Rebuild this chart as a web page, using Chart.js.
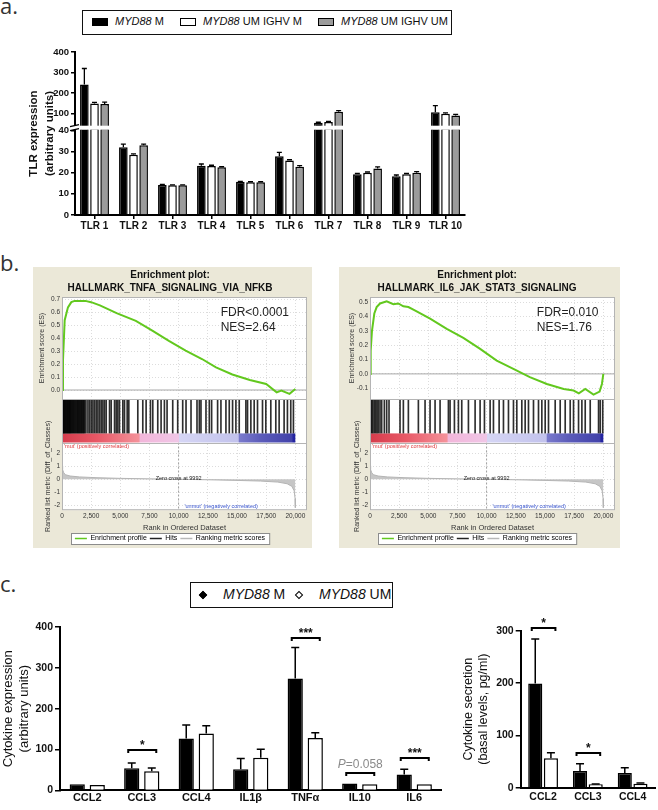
<!DOCTYPE html>
<html>
<head>
<meta charset="utf-8">
<title>TLR expression, GSEA and cytokines</title>
<script src="https://cdn.jsdelivr.net/npm/chart.js@4.4.0/dist/chart.umd.min.js"></script>
<style>
  body { margin: 0; width: 658px; height: 810px; position: relative; overflow: hidden; background: #fff;
         font-family: 'Liberation Sans', Arial, sans-serif; color: #111; }
  .panel { position: absolute; }
  canvas { display: block; }
  .tag { position: absolute; font-family: 'Open Sans', sans-serif; font-size: 22px; line-height: 22px; color: #333; }
  .legend { position: absolute; border: 1.5px solid #111; box-sizing: border-box; background: #fff; }
  .legend span { position: absolute; white-space: nowrap; }
  .sw { width: 16px; height: 8px; box-sizing: border-box; border: 1.5px solid #000; }
  .dia { width: 6px; height: 6px; box-sizing: border-box; border: 1.3px solid #000; transform: rotate(45deg); }
</style>
</head>
<body>

<div class="tag" style="left:0;top:-6px">a.</div>
<div class="legend" style="left:82px;top:10px;width:370px;height:25px;font-size:11px">
  <span class="sw" style="left:9px;top:7px;background:#000"></span>
  <span style="left:32px;top:4px"><i>MYD88</i> M</span>
  <span class="sw" style="left:97px;top:7px;background:#fff"></span>
  <span style="left:120px;top:4px"><i>MYD88</i> UM IGHV M</span>
  <span class="sw" style="left:235px;top:7px;background:#9b9b9b"></span>
  <span style="left:258px;top:4px"><i>MYD88</i> UM IGHV UM</span>
</div>
<div class="panel" style="left:0;top:40px"><canvas id="tlrChart" width="475" height="200"></canvas></div>

<div class="tag" style="left:0;top:251px">b.</div>
<div class="panel" style="left:33px;top:267px"><canvas id="gseaTnfa" width="279" height="281"></canvas></div>
<div class="panel" style="left:339px;top:267px"><canvas id="gseaIl6" width="281" height="281"></canvas></div>

<div class="tag" style="left:0;top:572px">c.</div>
<div class="legend" style="left:190px;top:582px;width:203px;height:26px;font-size:14px">
  <span class="dia" style="left:9px;top:8.5px;background:#000"></span>
  <span style="left:32px;top:3px"><i>MYD88</i> M</span>
  <span class="dia" style="left:105px;top:8.5px;background:#fff"></span>
  <span style="left:128px;top:3px"><i>MYD88</i> UM</span>
</div>
<div class="panel" style="left:0;top:612px"><canvas id="cytoChart" width="447" height="198"></canvas></div>
<div class="panel" style="left:447px;top:612px"><canvas id="secChart" width="211" height="198"></canvas></div>

<script>
// ===== a. TLR expression =====
const tlrLabels = ['TLR 1', 'TLR 2', 'TLR 3', 'TLR 4', 'TLR 5', 'TLR 6', 'TLR 7', 'TLR 8', 'TLR 9', 'TLR 10'];
const tlrMutated = [242, 32, 14.2, 23.3, 15.7, 27.8, 56, 19.2, 18.3, 108];
const tlrUnmutIghvM = [150, 28.5, 14, 23.2, 15.5, 25.8, 60, 20, 19.2, 100];
const tlrUnmutIghvUM = [148, 33, 14, 22.5, 15.5, 22.8, 110, 22, 20, 92];
const tlrErrMutated = [78, 1.5, 0.2, 0.8, 0.2, 1.8, 3, 0.4, 0.6, 32];
const tlrErrUnmutIghvM = [5, 0.4, 0.2, 0.3, 0.2, 0.3, 3, 0.3, 0.4, 4];
const tlrErrUnmutIghvUM = [9, 0.5, 0.2, 0.3, 0.2, 0.5, 5, 0.7, 0.5, 5];
const tlrTopTicks = [100, 200, 300, 400];
const tlrLowTicks = [0, 10, 20, 30, 40];
const tlrTitle = ['TLR expression', '(arbitrary units)'];

// ===== b. GSEA =====
const rankTicks = [0, 2500, 5000, 7500, 10000, 12500, 15000, 17500, 20000];
const tnfaRank = [0, 85, 230, 510, 800, 1080, 1500, 2000, 2500, 3250, 4680, 6330, 7740, 9160, 10600,
                  12000, 13200, 14600, 16100, 17500, 18400, 18800, 19500, 20000];
const tnfaES = [0, 0.23, 0.54, 0.64, 0.68, 0.69, 0.69, 0.69, 0.68, 0.655, 0.595, 0.535, 0.46, 0.38, 0.305,
                0.24, 0.175, 0.12, 0.078, 0.047, -0.018, -0.005, -0.03, 0.008];
const tnfaHits = [30, 85, 130, 171, 220, 285, 340, 399, 460, 513, 570, 627, 680, 741, 800, 870, 941, 1010,
                  1083, 1150, 1226, 1300, 1368, 1440, 1511, 1580, 1653, 1720, 1796, 1870, 1938, 2052, 2223,
                  2366, 2508, 2651, 2793, 2936, 3078, 3221, 3363, 3506, 3648, 3790, 4075, 4218, 4503, 4645,
                  4788, 4930, 5215, 5358, 5586, 5728, 6498, 6925, 7210, 7581, 7781, 8208, 8493, 8778, 9006,
                  9491, 9918, 10346, 10631, 11058, 11571, 11771, 11913, 12341, 12626, 12825, 13338, 13623,
                  14051, 14336, 14621, 14906, 15191, 15761, 15903, 16188, 16473, 16758, 17186, 17471, 17898,
                  18326, 18611, 19038, 19323, 19608, 19836];
const il6Rank = [0, 57, 170, 370, 570, 860, 1430, 2000, 2430, 2860, 3290, 3720, 5150, 6580, 8000, 9440,
                 10860, 12290, 13700, 15160, 16600, 17450, 17900, 18450, 19160, 19680, 19880, 20000];
const il6ES = [0, 0.16, 0.3, 0.42, 0.465, 0.49, 0.505, 0.485, 0.49, 0.47, 0.465, 0.447, 0.384, 0.314, 0.25,
               0.174, 0.093, 0.035, -0.023, -0.07, -0.105, -0.116, -0.135, -0.105, -0.144, -0.123, -0.07, 0];
const il6Hits = [60, 150, 250, 372, 486, 601, 715, 858, 1001, 1230, 1430, 1630, 2574, 2860, 3289, 4147,
                 4719, 5148, 5577, 6006, 6721, 6864, 7236, 7579, 7865, 8437, 9009, 9438, 9810, 10296, 10582,
                 11068, 11440, 11869, 12298, 12584, 13013, 13299, 13585, 14014, 14443, 14729, 15015, 15301,
                 15873, 16302, 16731, 17160, 17446, 17875, 18161, 18447, 18876, 19591, 19734, 19950];
const metricRank = [0, 50, 150, 300, 700, 1500, 3000, 5000, 7500, 9992, 12500, 15000, 17000, 18500, 19300,
                    19700, 19900, 19980, 20000];
const metricValue = [1.05, 0.75, 0.5, 0.35, 0.25, 0.18, 0.12, 0.07, 0.03, 0, -0.04, -0.09, -0.14, -0.22,
                     -0.35, -0.55, -0.9, -1.5, -2.2];
const metricTicks = [-2, -1, 0, 1, 2];
const esTicksTnfa = [0, 0.1, 0.2, 0.3, 0.4, 0.5, 0.6, 0.7];
const esTicksIl6 = [-0.1, 0, 0.1, 0.2, 0.3, 0.4, 0.5];
const cbarRank = [0, 3000, 6600, 6700, 10000, 10000, 15100, 15200, 17000, 19700, 19800, 20000];
const cbarColor = ['#d63c4c', '#e85866', '#f4929a', '#f2b6da', '#f0c6e6', '#d6d6f5', '#c2c2ec', '#7a7acc',
                   '#5c5cba', '#4242aa', '#2626a0', '#2020a0'];
const gseaLegendText = ['Enrichment profile', 'Hits', 'Ranking metric scores'];
const gseaLegendColor = ['#62c81e', '#222222', '#b8b8b8'];

// ===== c. Cytokines =====
const cytoLabels = ['CCL2', 'CCL3', 'CCL4', 'IL1β', 'TNFα', 'IL10', 'IL6'];
const cytoMut = [15, 54, 127, 52, 274, 17, 39];
const cytoUnmut = [13, 47, 139, 80, 128, 15, 15];
const cytoErrMut = [0, 13, 33, 26, 76, 0, 13];
const cytoErrUnmut = [0, 8, 19, 21, 13, 0, 0];
const cytoTicks = [0, 100, 200, 300, 400];
const cytoSigIndex = [1, 4, 5, 6];
const cytoSigLevel = [98, 374, 42, 79];
const cytoSigText = ['*', '***', 'P=0.058', '***'];

const secLabels = ['CCL2', 'CCL3', 'CCL4'];
const secMut = [199, 32, 28];
const secUnmut = [56.5, 6.5, 7.5];
const secErrMut = [85, 14, 10];
const secErrUnmut = [10.5, 0.5, 1.5];
const secTicks = [0, 100, 200, 300];
const secSigIndex = [0, 1];
const secSigLevel = [306, 67];
const secSigText = ['*', '*'];

Chart.defaults.font.family = "'Liberation Sans', Arial, sans-serif";
Chart.defaults.animation = false;
Chart.defaults.plugins.legend.display = false;
Chart.defaults.plugins.tooltip.enabled = false;

const FONT = "'Liberation Sans', Arial, sans-serif";
const setTicks = list => scale => { scale.ticks = list.map(v => ({ value: v })); };

// ===== a. chart (broken y axis = two stacked scales) =====
const tlrBreak = 40;
const tlrSeries = [
    { name: 'MYD88 M', values: tlrMutated, errors: tlrErrMutated, color: '#000' },
    { name: 'MYD88 UM IGHV M', values: tlrUnmutIghvM, errors: tlrErrUnmutIghvM, color: '#fff' },
    { name: 'MYD88 UM IGHV UM', values: tlrUnmutIghvUM, errors: tlrErrUnmutIghvUM, color: '#9b9b9b' }
];
const tlrBarStyle = s => ({
    label: s.name, stack: s.name, backgroundColor: s.color, borderColor: '#000', borderWidth: 1.5,
    categoryPercentage: 0.78, barPercentage: 0.85
});

const tlrDecor = {
    id: 'tlrDecor',
    afterDatasetsDraw(chart) {
        const { ctx, scales } = chart;
        ctx.save();
        ctx.strokeStyle = '#000';
        ctx.lineWidth = 1.3;
        tlrSeries.forEach((s, si) => {
            chart.getDatasetMeta(tlrSeries.length + si).data.forEach((bar, j) => {
                const v = s.values[j], e = s.errors[j];
                if (!e) return;
                const sc = v > tlrBreak ? scales.yTop : scales.yLow;
                const y0 = sc.getPixelForValue(v), y1 = sc.getPixelForValue(v + e);
                ctx.beginPath();
                ctx.moveTo(bar.x, y0); ctx.lineTo(bar.x, y1);
                ctx.moveTo(bar.x - 2.5, y1); ctx.lineTo(bar.x + 2.5, y1);
                ctx.stroke();
            });
        });
        ctx.restore();
    },
    afterDraw(chart) {
        const { ctx, chartArea: a, scales } = chart;
        const yb = scales.yTop.bottom;
        ctx.save();
        // axis break
        ctx.fillStyle = '#fff';
        ctx.fillRect(a.left - 6, yb - 2.5, a.right - a.left + 6, 4);
        ctx.strokeStyle = '#000';
        ctx.lineWidth = 1.3;
        ctx.beginPath();
        ctx.moveTo(a.left - 5, yb - 1.5); ctx.lineTo(a.left + 4, yb - 3.5);
        ctx.moveTo(a.left - 5, yb + 2.5); ctx.lineTo(a.left + 4, yb + 0.5);
        ctx.stroke();
        // y title across both segments
        ctx.fillStyle = '#111';
        ctx.font = 'bold 11.5px ' + FONT;
        ctx.textAlign = 'center';
        ctx.textBaseline = 'middle';
        const cy = (a.top + a.bottom) / 2;
        [33.5, 49.5].forEach((x, i) => {
            ctx.save();
            ctx.translate(x, cy);
            ctx.rotate(-Math.PI / 2);
            ctx.fillText(tlrTitle[i], 0, 0);
            ctx.restore();
        });
        ctx.restore();
    }
};

const tlrAxis = {
    type: 'linear', position: 'left', stack: 'tlr', stacked: false,
    afterFit: s => { s.width = 30; },
    ticks: { font: { size: 9.5, weight: 'bold' }, color: '#111', padding: 2, autoSkip: false },
    grid: { drawOnChartArea: false, color: '#000', lineWidth: 1.5, tickLength: 4 },
    border: { color: '#000', width: 2 }
};

new Chart(document.getElementById('tlrChart'), {
    type: 'bar',
    data: {
        labels: tlrLabels,
        datasets: [
            ...tlrSeries.map(s => ({ ...tlrBarStyle(s), yAxisID: 'yTop', data: s.values.map(v => v > tlrBreak ? v : null) })),
            ...tlrSeries.map(s => ({ ...tlrBarStyle(s), yAxisID: 'yLow', data: s.values.map(v => Math.min(v, 41)) }))
        ]
    },
    options: {
        responsive: false,
        layout: { padding: { left: 45, right: 10, top: 12, bottom: 7 } },
        scales: {
            x: {
                offset: true,
                grid: { display: true, drawOnChartArea: false, drawTicks: true, tickLength: 4, color: '#000', lineWidth: 1.5, offset: false },
                border: { color: '#000', width: 2 },
                ticks: { font: { size: 10, weight: 'bold' }, color: '#111', padding: 1, autoSkip: false, maxRotation: 0 }
            },
            yTop: { ...tlrAxis, weight: 2, stackWeight: 75.5, min: 30, max: 400, afterBuildTicks: setTicks(tlrTopTicks) },
            yLow: { ...tlrAxis, weight: 1, stackWeight: 86, min: 0, max: 41, afterBuildTicks: setTicks(tlrLowTicks) }
        }
    },
    plugins: [tlrDecor]
});

// ===== b. GSEA enrichment plots =====
function gseaDecor(g) {
    return {
        id: 'gseaDecor',
        beforeDraw(chart) {
            const { ctx, chartArea: a, width, height } = chart;
            ctx.save();
            ctx.fillStyle = '#ebe8d8';
            ctx.fillRect(0, 0, width, height);
            ctx.fillStyle = '#fff';
            ctx.fillRect(a.left, a.top, a.right - a.left, a.bottom - a.top);
            const hb = chart.legend.legendHitBoxes;
            if (hb && hb.length) {
                const l = Math.min(...hb.map(b => b.left)) - 4;
                const r = Math.max(...hb.map(b => b.left + b.width)) + 4;
                const t = hb[0].top - 2, bt = hb[0].top + hb[0].height + 2;
                ctx.fillRect(l, t, r - l, bt - t);
                ctx.strokeStyle = '#8c8c8c';
                ctx.lineWidth = 1;
                ctx.strokeRect(Math.round(l) + 0.5, Math.round(t) + 0.5, r - l, bt - t);
            }
            ctx.restore();
        },
        beforeDatasetsDraw(chart) {
            const { ctx, scales } = chart;
            const x = scales.x, yb = scales.yBar;
            const x0 = x.getPixelForValue(cbarRank[0]);
            const x1 = x.getPixelForValue(cbarRank[cbarRank.length - 1]);
            const grad = ctx.createLinearGradient(x0, 0, x1, 0);
            cbarRank.forEach((r, i) => grad.addColorStop(r / cbarRank[cbarRank.length - 1], cbarColor[i]));
            ctx.save();
            ctx.fillStyle = grad;
            ctx.fillRect(x0, yb.top, x1 - x0, yb.bottom - yb.top);
            ctx.restore();
        },
        afterDatasetsDraw(chart) {
            const { ctx, chartArea: a, scales } = chart;
            const x = scales.x, ym = scales.yMetric, ye = scales.yES;
            ctx.save();
            ctx.textBaseline = 'middle';
            ctx.font = '12px ' + FONT;
            ctx.fillStyle = '#222';
            ctx.textAlign = 'left';
            const sx = x.getPixelForValue(g.statRank), sy = ye.getPixelForValue(g.statLevel);
            ctx.fillText(g.stats[0], sx, sy);
            ctx.fillText(g.stats[1], sx, sy + 15);
            ctx.font = '5.5px ' + FONT;
            ctx.fillStyle = '#e0383c';
            ctx.fillText("'mut' (positively correlated)", a.left + 2, ym.top + 4);
            ctx.fillStyle = '#3a56d0';
            ctx.fillText("'unmut' (negatively correlated)", x.getPixelForValue(10500), ym.getPixelForValue(-2.1));
            ctx.fillStyle = '#222';
            ctx.textAlign = 'center';
            ctx.fillText('Zero cross at 9992', x.getPixelForValue(9992), ym.getPixelForValue(0) - 1);
            ctx.restore();
        },
        afterDraw(chart) {
            const { ctx, chartArea: a, scales } = chart;
            ctx.save();
            ctx.strokeStyle = '#b4b4b4';
            ctx.lineWidth = 1;
            ctx.strokeRect(a.left + 0.5, a.top + 0.5, a.right - a.left - 1, a.bottom - a.top - 1);
            ctx.beginPath();
            [scales.yES.bottom, scales.yBar.bottom].forEach(y => {
                ctx.moveTo(a.left, Math.round(y) + 0.5); ctx.lineTo(a.right, Math.round(y) + 0.5);
            });
            ctx.stroke();
            ctx.restore();
        }
    };
}

function gseaChart(id, g) {
    const side = { type: 'linear', position: 'left', stack: 'gsea', offset: false, afterFit: s => { s.width = g.axisWidth; } };
    const small = { size: 6.5 };
    const dotted = { display: false, dash: [1, 2] };
    return new Chart(document.getElementById(id), {
        type: 'line',
        data: {
            datasets: [
                { label: 'es', data: g.rank.map((r, i) => ({ x: r, y: g.es[i] })), yAxisID: 'yES',
                  borderColor: '#62c81e', borderWidth: 2, pointRadius: 0, order: 0 },
                { label: 'zero', data: [{ x: 0, y: 0 }, { x: 21000, y: 0 }], yAxisID: 'yES',
                  borderColor: '#a8a8a8', borderWidth: 1, pointRadius: 0, order: 3 },
                { type: 'bar', label: 'hits', data: g.hits.map(h => ({ x: h, y: 1 })), yAxisID: 'yHits',
                  backgroundColor: 'rgba(0,0,0,0.82)', barThickness: 1, borderWidth: 0, order: 1 },
                { label: 'metric', data: metricRank.map((r, i) => ({ x: r, y: metricValue[i] })), yAxisID: 'yMetric',
                  borderColor: '#b4b4b4', backgroundColor: '#c6c6c6', borderWidth: 1, fill: 'origin', pointRadius: 0, order: 2 },
                { label: 'cross', data: [{ x: 9992, y: 2.85 }, { x: 9992, y: -2.4 }], yAxisID: 'yMetric',
                  borderColor: '#a0a0a0', borderWidth: 1, borderDash: [2, 2], pointRadius: 0, order: 1 }
            ]
        },
        options: {
            responsive: false,
            layout: { padding: { left: 0, right: 5, top: 0, bottom: -4 } },
            plugins: {
                title: { display: true, text: ['Enrichment plot:', g.title], color: '#111',
                         font: { size: 10, weight: 'bold', lineHeight: 1.3 }, padding: { top: 1.5, bottom: 2.5 } },
                legend: {
                    display: true, position: 'bottom', onClick: null,
                    labels: {
                        color: '#222', font: { size: 7 }, usePointStyle: true, pointStyleWidth: 12, boxHeight: 7, padding: 3,
                        generateLabels: () => gseaLegendText.map((t, i) => ({
                            text: t, fillStyle: gseaLegendColor[i], strokeStyle: gseaLegendColor[i],
                            lineWidth: 1.5, pointStyle: 'line', hidden: false, datasetIndex: i
                        }))
                    }
                }
            },
            scales: {
                x: {
                    type: 'linear', min: 0, max: 21000, offset: false, afterBuildTicks: setTicks(rankTicks),
                    ticks: { font: small, color: '#333', padding: 2, maxRotation: 0, autoSkip: false,
                             callback: v => v.toLocaleString('en-US') },
                    grid: { color: '#dcdcdc', drawTicks: false, offset: false }, border: dotted,
                    title: { display: true, text: 'Rank in Ordered Dataset', color: '#333', font: { size: 7.5 }, padding: { top: 1, bottom: 0 } }
                },
                yES: {
                    ...side, weight: 4, stackWeight: 101, min: g.esMin, max: g.esMax, afterBuildTicks: setTicks(g.esTicks),
                    ticks: { font: small, color: '#333', padding: 2, autoSkip: false, callback: v => v.toFixed(1) },
                    grid: { color: '#dcdcdc', drawTicks: false }, border: dotted,
                    title: { display: true, text: 'Enrichment score (ES)', color: '#333', font: { size: 7 }, padding: { top: g.esTitlePad, bottom: 0 } }
                },
                yHits: { ...side, weight: 3, stackWeight: 34, min: 0, max: 1, ticks: { display: false }, grid: { display: false }, border: { display: false } },
                yBar: { ...side, weight: 2, stackWeight: 9, min: 0, max: 1, ticks: { display: false }, grid: { display: false }, border: { display: false } },
                yMetric: {
                    ...side, weight: 1, stackWeight: 67, min: -2.4, max: 2.85, afterBuildTicks: setTicks(metricTicks),
                    ticks: { font: small, color: '#333', padding: 2, autoSkip: false },
                    grid: { color: '#dcdcdc', drawTicks: false }, border: dotted,
                    title: { display: true, text: 'Ranked list metric (Diff_of_Classes)', color: '#333', font: { size: 7 }, padding: { top: g.metricTitlePad, bottom: 0 } }
                }
            }
        },
        plugins: [gseaDecor(g)]
    });
}

gseaChart('gseaTnfa', {
    title: 'HALLMARK_TNFA_SIGNALING_VIA_NFKB', rank: tnfaRank, es: tnfaES, hits: tnfaHits,
    esMin: -0.07, esMax: 0.72, esTicks: esTicksTnfa, stats: ['FDR<0.0001', 'NES=2.64'],
    statRank: 13600, statLevel: 0.60, axisWidth: 29, esTitlePad: 5, metricTitlePad: 11
});
gseaChart('gseaIl6', {
    title: 'HALLMARK_IL6_JAK_STAT3_SIGNALING', rank: il6Rank, es: il6ES, hits: il6Hits,
    esMin: -0.175, esMax: 0.535, esTicks: esTicksIl6, stats: ['FDR=0.010', 'NES=1.76'],
    statRank: 14300, statLevel: 0.428, axisWidth: 31, esTitlePad: 8.5, metricTitlePad: 13.5
});

// ===== c. cytokine bars =====
function cytoDecor(o) {
    return {
        id: 'cytoDecor',
        afterDatasetsDraw(chart) {
            const { ctx } = chart;
            const y = chart.scales.y;
            const m0 = chart.getDatasetMeta(0), m1 = chart.getDatasetMeta(1);
            ctx.save();
            ctx.strokeStyle = '#000';
            ctx.lineWidth = 1.5;
            [[o.mut, o.errMut, m0], [o.unmut, o.errUnmut, m1]].forEach(([vals, errs, meta]) => {
                meta.data.forEach((bar, j) => {
                    if (!errs[j]) return;
                    const y0 = y.getPixelForValue(vals[j]), y1 = y.getPixelForValue(vals[j] + errs[j]);
                    ctx.beginPath();
                    ctx.moveTo(bar.x, y0); ctx.lineTo(bar.x, y1);
                    ctx.moveTo(bar.x - 4, y1); ctx.lineTo(bar.x + 4, y1);
                    ctx.stroke();
                });
            });
            ctx.lineWidth = 2;
            ctx.textBaseline = 'alphabetic';
            o.sigIndex.forEach((k, i) => {
                const xa = m0.data[k].x - 3.5, xb = m1.data[k].x + 4.5;
                const yy = Math.round(y.getPixelForValue(o.sigLevel[i]));
                ctx.beginPath();
                ctx.moveTo(xa, yy + 3); ctx.lineTo(xa, yy); ctx.lineTo(xb, yy); ctx.lineTo(xb, yy + 3);
                ctx.stroke();
                const txt = o.sigText[i], cx = (xa + xb) / 2;
                if (txt.startsWith('P')) {
                    ctx.fillStyle = '#8a8a8a';
                    ctx.font = 'italic 12px ' + FONT;
                    const wp = ctx.measureText('P').width;
                    ctx.font = '12px ' + FONT;
                    const wr = ctx.measureText(txt.slice(1)).width;
                    const sx = cx - (wp + wr) / 2;
                    ctx.textAlign = 'left';
                    ctx.font = 'italic 12px ' + FONT;
                    ctx.fillText('P', sx, yy - 5);
                    ctx.font = '12px ' + FONT;
                    ctx.fillText(txt.slice(1), sx + wp, yy - 5);
                } else {
                    ctx.fillStyle = '#111';
                    ctx.font = 'bold 12px ' + FONT;
                    ctx.textAlign = 'center';
                    ctx.fillText(txt, cx, yy - 1);
                }
            });
            ctx.restore();
        }
    };
}

function cytoChart(id, o) {
    return new Chart(document.getElementById(id), {
        type: 'bar',
        data: {
            labels: o.labels,
            datasets: [
                { label: 'MYD88 M', data: o.mut, backgroundColor: '#000', borderColor: '#000', borderWidth: 1.5,
                  categoryPercentage: o.cat, barPercentage: o.bar },
                { label: 'MYD88 UM', data: o.unmut, backgroundColor: '#fff', borderColor: '#000', borderWidth: 1.5,
                  categoryPercentage: o.cat, barPercentage: o.bar }
            ]
        },
        options: {
            responsive: false,
            layout: { padding: { left: 0, right: o.padRight, top: o.padTop, bottom: o.padBottom } },
            scales: {
                x: {
                    grid: { display: false, drawTicks: false }, border: { color: '#000', width: 2 },
                    ticks: { font: { size: o.xFont, weight: 'bold' }, color: '#111', padding: o.xPad, autoSkip: false, maxRotation: 0 }
                },
                y: {
                    min: 0, max: o.max, afterBuildTicks: setTicks(o.ticks), afterFit: s => { s.width = o.axisWidth; },
                    ticks: { font: { size: 10.5, weight: 'bold' }, color: '#111', padding: 2, autoSkip: false },
                    grid: { drawOnChartArea: false, color: '#000', lineWidth: 1.5, tickLength: 5 },
                    border: { color: '#000', width: 2 },
                    title: { display: true, text: o.title, color: '#111', font: { size: o.titleSize, lineHeight: o.titleLH },
                             padding: { top: o.titlePad, bottom: 0 } }
                }
            }
        },
        plugins: [cytoDecor(o)]
    });
}

cytoChart('cytoChart', {
    labels: cytoLabels, mut: cytoMut, unmut: cytoUnmut, errMut: cytoErrMut, errUnmut: cytoErrUnmut,
    ticks: cytoTicks, max: 400, sigIndex: cytoSigIndex, sigLevel: cytoSigLevel, sigText: cytoSigText,
    title: ['Cytokine expression', '(arbitrary units)'], titleSize: 13, titleLH: 1.25, titlePad: 0,
    cat: 0.735, bar: 0.76, axisWidth: 60, padRight: 5.5, padTop: 15, padBottom: 5, xPad: 0.7, xFont: 11
});
cytoChart('secChart', {
    labels: secLabels, mut: secMut, unmut: secUnmut, errMut: secErrMut, errUnmut: secErrUnmut,
    ticks: secTicks, max: 300, sigIndex: secSigIndex, sigLevel: secSigLevel, sigText: secSigText,
    title: ['Cytokine secretion', '(basal levels, pg/ml)'], titleSize: 12.5, titleLH: 1.16, titlePad: 14.7,
    cat: 0.7, bar: 0.9, axisWidth: 73.7, padRight: 3, padTop: 18.7, padBottom: 3.3, xPad: 3.2, xFont: 10.5
});
</script>
</body>
</html>
